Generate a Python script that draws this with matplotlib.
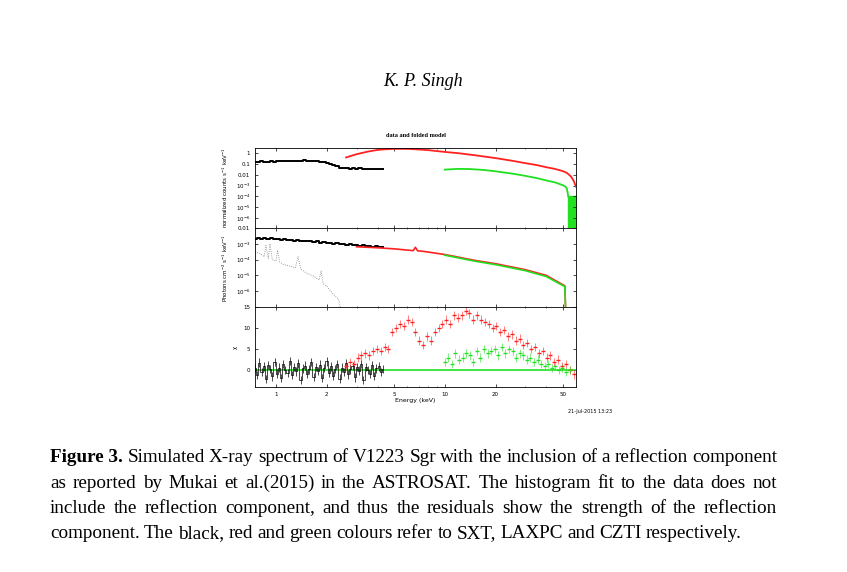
import numpy as np
import matplotlib.pyplot as plt
from matplotlib.ticker import FixedLocator, NullLocator, NullFormatter

# --- panel 1 : data and folded model (counts) ---
sxt_e1 = np.geomspace(0.75, 4.3, 40)
sxt_c1 = [0.16, 0.15, 0.17, 0.15, 0.16, 0.17, 0.16, 0.18, 0.17, 0.18, 0.19, 0.18, 0.2, 0.19,
          0.2, 0.21, 0.19, 0.2, 0.18, 0.17, 0.15, 0.14, 0.12, 0.1, 0.08, 0.06, 0.045, 0.04,
          0.042, 0.038, 0.04, 0.037, 0.039, 0.036, 0.038, 0.035, 0.037, 0.034, 0.036, 0.033]
lax_e1 = [2.6, 3, 3.5, 4, 4.5, 5, 6, 7, 8, 10, 12, 15, 20, 25, 30, 35, 40, 45, 50, 53, 56, 58, 60]
lax_c1 = [0.4, 0.8, 1.4, 2.0, 2.3, 2.5, 2.5, 2.2, 1.9, 1.3, 1.0, 0.65, 0.35, 0.2, 0.12, 0.08,
          0.05, 0.035, 0.022, 0.015, 0.007, 0.003, 0.0008]
czt_e1 = [10, 12, 14, 17, 20, 25, 30, 35, 40, 45, 50, 52, 53, 54]
czt_c1 = [0.03, 0.035, 0.034, 0.028, 0.021, 0.013, 0.008, 0.005, 0.003, 0.002, 0.0011,
          0.0008, 0.0005, 0.0001]

# --- panel 2 : unfolded spectrum ---
sxt_c2 = [2.1e-3, 2.3e-3, 1.9e-3, 2.2e-3, 2.0e-3, 2.4e-3, 1.9e-3, 2.0e-3, 1.8e-3, 1.9e-3,
          1.7e-3, 1.8e-3, 1.6e-3, 1.7e-3, 1.5e-3, 1.6e-3, 1.4e-3, 1.5e-3, 1.3e-3, 1.4e-3,
          1.2e-3, 1.25e-3, 1.1e-3, 1.15e-3, 1.0e-3, 1.05e-3, 9.5e-4, 1.0e-3, 8.8e-4, 9.2e-4,
          8.2e-4, 8.8e-4, 7.6e-4, 8.0e-4, 7.0e-4, 7.5e-4, 6.6e-4, 7.0e-4, 6.2e-4, 6.4e-4]
lax_e2 = [3, 3.5, 4, 5, 6, 6.5, 6.7, 6.9, 7.5, 10, 15, 20, 30, 40, 50, 51.5, 52]
lax_c2 = [6.5e-4, 6e-4, 5.6e-4, 4.8e-4, 4e-4, 3.7e-4, 6e-4, 3.6e-4, 3.3e-4, 2.1e-4, 9e-5,
          5.5e-5, 2.3e-5, 1e-5, 2.6e-6, 2.2e-6, 1e-7]
czt_e2 = [10, 15, 20, 30, 40, 50, 51.5, 52]
czt_c2 = [1.9e-4, 8e-5, 4.8e-5, 2e-5, 8.5e-6, 2.3e-6, 2e-6, 1e-7]
mod_e = [0.75, 0.8, 0.85, 0.87, 0.9, 0.92, 0.95, 1.0, 1.02, 1.05, 1.1, 1.2, 1.3, 1.35, 1.4,
         1.5, 1.7, 1.8, 1.85, 1.9, 2.0, 2.2, 2.35, 2.4, 2.5]
mod_c = [3e-4, 2.5e-4, 1.5e-4, 8e-4, 1.2e-4, 1e-3, 1e-4, 8e-5, 4e-4, 7e-5, 5e-5, 4e-5, 3e-5,
         1.5e-4, 2.5e-5, 1.5e-5, 8e-6, 5e-6, 2e-5, 3e-6, 2e-6, 6e-7, 3e-7, 1e-7, 1e-8]

# --- panel 3 : residuals ---
sxt_r = [0.5, -1.2, 1.8, -0.4, 0.9, -2.1, 1.2, 0.3, -1.5, 2.0, -0.8, 0.6, -1.9, 1.4, 0.1,
         -0.7, 2.2, -1.1, 0.8, -0.3, 1.6, -2.3, 0.4, 1.1, -0.9, 0.2, 1.9, -1.6, 0.7, -0.2,
         1.3, -1.8, 0.5, 2.1, -0.6, 0.9, -1.3, 0.3, 1.5, -2.0, 0.6, -0.4, 1.7, -1.0, 0.2,
         1.0, -1.7, 0.8, -0.1, 1.4, -2.4, 0.7, 0.1, -0.9, 1.2, -1.4, 0.4, 0.9, -0.5, 0.3]
lax_r = [1, 2, 1.5, 3, 3.5, 4, 3.5, 4.5, 5, 4.5, 5.5, 5,
         9, 10, 11, 10.5, 12, 11.5, 9, 7, 6, 8,
         7, 9, 10, 11, 12, 11, 13, 12.5, 13, 14, 13.5, 12, 13, 12,
         11.5, 11, 10, 10.5, 9, 9.5, 8, 8.5, 7, 7.5, 6, 6.5, 5, 5.5, 4, 4.5, 3, 3.5, 2, 2.5,
         1, 1.5, 0, -1]
czt_r = [2, 3, 1.5, 4, 2.5, 3, 4, 3.5, 2, 4.5, 3, 5, 4, 4.5, 5, 3.5, 5.5, 4, 5, 4.5, 3, 4,
         3.5, 2.5, 3, 2, 2.5, 1.5, 1, 1.5, 0.5, 1, 0, 0.5, -0.5, 0]
sxt_er = np.geomspace(0.75, 4.3, len(sxt_r))
lax_er = np.geomspace(2.6, 58, len(lax_r))
czt_er = np.geomspace(10, 55, len(czt_r))

caption = [
    ('Figure 3.', 'Simulated X-ray spectrum of V1223 Sgr with the inclusion of a reflection component'),
    ('', 'as reported by Mukai et al.(2015) in the ASTROSAT. The histogram fit to the data does not'),
    ('', 'include the reflection component, and thus the residuals show the strength of the reflection'),
    ('', 'component. The black, red and green colours refer to SXT, LAXPC and CZTI respectively.'),
]

RED = '#ff2020'
GREEN = '#20e020'

fig = plt.figure(figsize=(8.47, 5.72), dpi=100)
W, H = 847, 572


def box(x0, y0, x1, y1):
    return [x0 / W, 1 - y1 / H, (x1 - x0) / W, (y1 - y0) / H]


ax1 = fig.add_axes(box(255, 148, 576, 228))
ax2 = fig.add_axes(box(255, 228, 576, 307), sharex=ax1)
ax3 = fig.add_axes(box(255, 307, 576, 387), sharex=ax1)

ax1.plot(sxt_e1, sxt_c1, color='black', lw=1.4, drawstyle='steps-mid')
ax1.plot(lax_e1, lax_c1, color=RED, lw=1.3)
ax1.plot(czt_e1, czt_c1, color=GREEN, lw=1.3)
ax1.fill_between([54, 60], 1e-4, 1e-8, color=GREEN)
ax1.set_yscale('log')
ax1.set_ylim(1.2e-7, 3)
ax1.set_yticks([1, 0.1, 0.01, 1e-3, 1e-4, 1e-5, 1e-6])
ax1.set_yticklabels(['1', '0.1', '0.01', '10$^{-3}$', '10$^{-4}$', '10$^{-5}$', '10$^{-6}$'])
ax1.set_ylabel('normalized counts s$^{-1}$ keV$^{-1}$', fontsize=4)
ax1.set_title('data and folded model', fontsize=4.5, fontweight='bold',
              family='Liberation Serif', pad=8)

ax2.plot(np.geomspace(0.75, 4.3, 40), sxt_c2, color='black', lw=1.4, drawstyle='steps-mid')
ax2.plot(lax_e2, lax_c2, color=RED, lw=1.2)
ax2.plot(czt_e2, czt_c2, color=GREEN, lw=1.2)
ax2.plot(mod_e, mod_c, color='gray', lw=0.6, ls=':')
ax2.set_yscale('log')
ax2.set_ylim(1e-7, 1e-2)
ax2.set_yticks([0.01, 1e-3, 1e-4, 1e-5, 1e-6])
ax2.set_yticklabels(['0.01', '10$^{-3}$', '10$^{-4}$', '10$^{-5}$', '10$^{-6}$'])
ax2.set_ylabel('Photons cm$^{-2}$ s$^{-1}$ keV$^{-1}$', fontsize=4)

ax3.axhline(0, color=GREEN, lw=1.2)
ax3.errorbar(sxt_er, sxt_r, yerr=1, color='black', lw=0.5, drawstyle='steps-mid')
ax3.errorbar(lax_er, lax_r, yerr=1, color=RED, lw=0.4, ls='none', marker='_', ms=3)
ax3.errorbar(czt_er, czt_r, yerr=1, color=GREEN, lw=0.4, ls='none', marker='_', ms=3)
ax3.set_ylim(-4, 15)
ax3.set_yticks([0, 5, 10, 15])
ax3.set_ylabel('χ', fontsize=4)
ax3.set_xlabel('Energy (keV)', fontsize=4.5, labelpad=1)

for ax in (ax1, ax2, ax3):
    ax.set_xscale('log')
    ax.set_xlim(0.75, 60)
    ax.xaxis.set_major_locator(FixedLocator([1, 2, 5, 10, 20, 50]))
    ax.xaxis.set_minor_locator(FixedLocator([3, 4, 6, 7, 8, 9, 30, 40]))
    ax.xaxis.set_minor_formatter(NullFormatter())
    ax.yaxis.set_minor_locator(NullLocator())
    ax.tick_params(labelsize=4, direction='in', top=True, right=True, length=2, width=0.5)
    ax.tick_params(which='minor', direction='in', top=True, length=1, width=0.4)
    for s in ax.spines.values():
        s.set_linewidth(0.6)
for ax in (ax1, ax2):
    ax.tick_params(labelbottom=False)
ax3.set_xticklabels(['1', '2', '5', '10', '20', '50'])

serif = 'Liberation Serif'
fig.text(423 / W, 1 - 82 / H, 'K. P. Singh', ha='center', va='center', fontsize=13,
         style='italic', family=serif)
fig.text(590 / W, 1 - 412 / H, '21-Jul-2015 13:23', ha='center', va='center', fontsize=3.5)

# justified caption: place words one by one
fs = 13.8
x_left, x_right = 50, 777
renderer = fig.canvas.get_renderer()
for i, (bold, body) in enumerate(caption):
    y = 1 - (462 + 25.5 * i) / H
    words = ([(bold, 'bold')] if bold else []) + [(w, 'normal') for w in body.split()]
    objs = [fig.text(0, y, w, fontsize=fs, family=serif, fontweight=wt, va='baseline')
            for w, wt in words]
    widths = [o.get_window_extent(renderer).width for o in objs]
    last = i == len(caption) - 1
    gap = 4.3 if last else (x_right - x_left - sum(widths)) / (len(objs) - 1)
    x = x_left
    for o, w in zip(objs, widths):
        o.set_x(x / W)
        x += w + gap

fig.savefig('out.png', dpi=100)
